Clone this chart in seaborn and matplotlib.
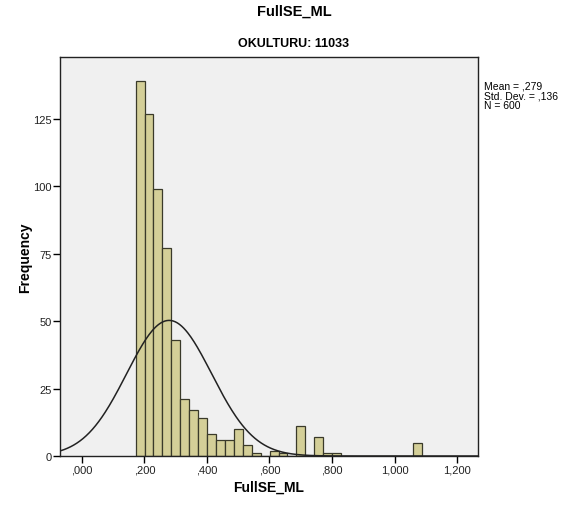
import numpy as np
import pandas as pd
import matplotlib
matplotlib.use("Agg")
import matplotlib.pyplot as plt
import seaborn as sns

# ---- data ----
bin_start = 0.1718
bin_width = 0.02858
counts = [139, 127, 99, 77, 43, 21, 17, 14, 8, 6, 6, 10, 4, 1, 0, 2, 1, 0,
          11, 0, 7, 1, 1, 0, 0, 0, 0, 0, 0, 0, 0, 5]
mean_val = 0.279
sd_val = 0.136
n_val = 600
x_ticks = [0.0, 0.2, 0.4, 0.6, 0.8, 1.0, 1.2]
x_tick_labels = [",000", ",200", ",400", ",600", ",800", "1,000", "1,200"]
y_ticks = [0, 25, 50, 75, 100, 125]
y_tick_labels = ["0", "25", "50", "75", "100", "125"]

edges = [float(bin_start + bin_width * i) for i in range(len(counts) + 1)]
centers = [(edges[i] + edges[i + 1]) / 2 for i in range(len(counts))]
df = pd.DataFrame({"FullSE_ML": centers, "count": counts})

sns.set_style("white")
plt.rcParams["font.family"] = ["Liberation Sans", "DejaVu Sans"]
plt.rcParams["text.color"] = "black"
plt.rcParams["axes.labelcolor"] = "black"

fig = plt.figure(figsize=(5.63, 5.06), dpi=100)
ax = fig.add_axes([60 / 563, 49 / 506, 418 / 563, 399 / 506])
ax.set_facecolor("#f0f0f0")

sns.histplot(data=df, x="FullSE_ML", weights="count", bins=edges, ax=ax,
             color="#d4cf98", edgecolor="#3a3a2a", linewidth=0.9, alpha=1.0)

xs = np.linspace(-0.07, 1.267, 400)
ys = n_val * bin_width / (sd_val * np.sqrt(2 * np.pi)) * np.exp(-0.5 * ((xs - mean_val) / sd_val) ** 2)
sns.lineplot(x=xs, y=ys, ax=ax, color="#222222", linewidth=1.1)

ax.set_xlim(-0.07, 1.267)
ax.set_ylim(0, 148)
ax.set_xticks(x_ticks)
ax.set_xticklabels(x_tick_labels)
ax.set_yticks(y_ticks)
ax.set_yticklabels(y_tick_labels)
ax.tick_params(axis="both", direction="out", length=5, width=1, color="black",
               labelsize=8, pad=1, labelcolor="#222222")
ax.tick_params(axis="both", which="both", bottom=True, left=True)
for s in ax.spines.values():
    s.set_color("#222222")
    s.set_linewidth(1.0)

ax.set_xlabel("FullSE_ML", fontsize=10, fontweight="bold", labelpad=4)
ax.set_ylabel("Frequency", fontsize=10, fontweight="bold")
ax.yaxis.set_label_coords(-0.067, 0.5)

fig.text(294 / 563, 1 - 12 / 506, "FullSE_ML", fontsize=10.5, fontweight="bold",
         ha="center", va="center")
fig.text(294 / 563, 1 - 44 / 506, "OKULTURU: 11033", fontsize=9, fontweight="bold",
         ha="center", va="center")
fig.text(484 / 563, 1 - 82 / 506,
         "Mean = ,279\nStd. Dev. = ,136\nN = 600",
         fontsize=7.5, ha="left", va="top", linespacing=0.92)

fig.savefig("out.png", dpi=100, facecolor="white")
